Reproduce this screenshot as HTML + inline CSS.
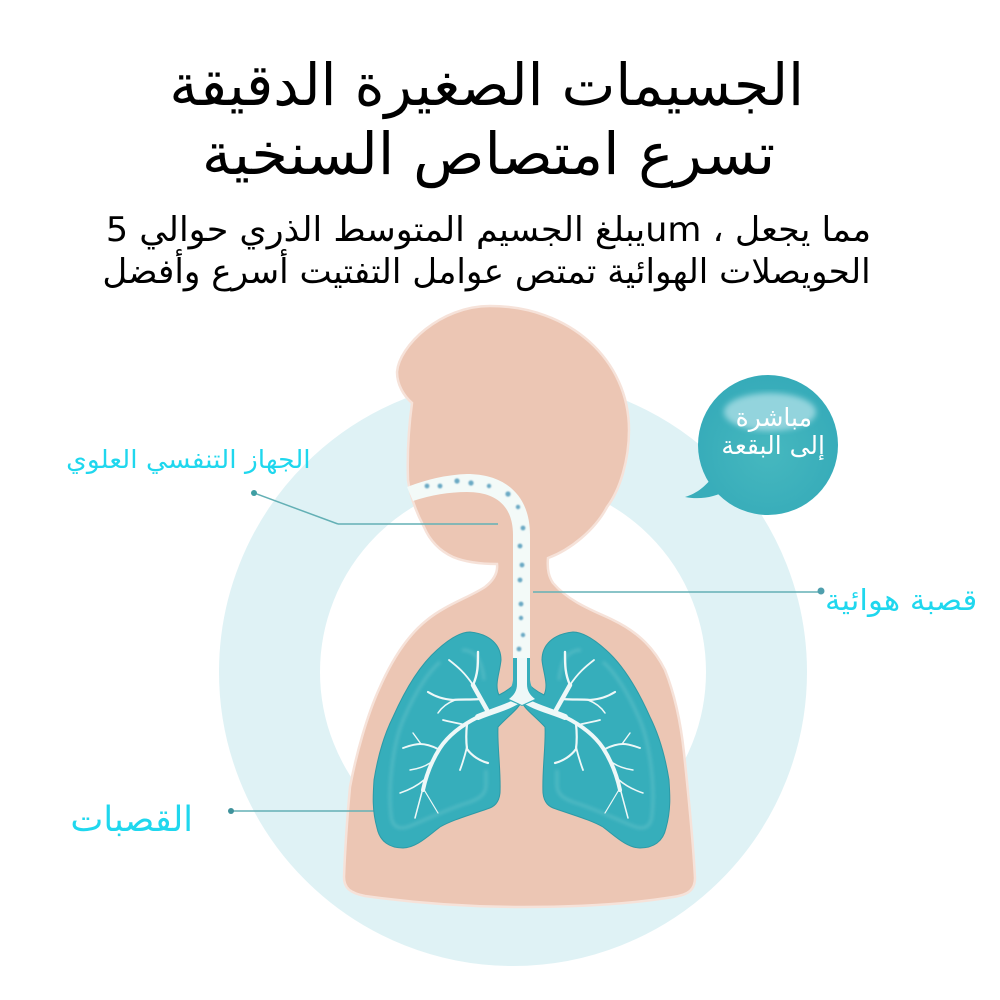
<!DOCTYPE html>
<html lang="ar">
<head>
<meta charset="utf-8">
<style>
html,body{margin:0;padding:0;background:#fff;width:1000px;height:1000px;overflow:hidden}
#p{position:relative;width:1000px;height:1000px;font-family:"DejaVu Sans","Liberation Sans",sans-serif}
svg{position:absolute;left:0;top:0}
.t{position:absolute;white-space:nowrap;direction:rtl;line-height:1;transform-origin:100% 50%}
</style>
</head>
<body>
<div id="p">
<svg width="1000" height="1000" viewBox="0 0 1000 1000">
<defs>
<radialGradient id="bb" cx="0.5" cy="0.55" r="0.55"><stop offset="0" stop-color="#46b8bf"/><stop offset="1" stop-color="#36abb9"/></radialGradient>
<filter id="soft"><feGaussianBlur stdDeviation="0.7"/></filter>
<filter id="soft2"><feGaussianBlur stdDeviation="1.5"/></filter>
<filter id="soft3"><feGaussianBlur stdDeviation="3"/></filter>
<g id="lung">
<path d="M470 632C490 634 501 645 501 660C500 672 494 685 499 695C505 692 512 688 518 680L522 700C520 708 508 716 498 727C497 745 501 770 500 793C499 803 494 807 487 809C470 815 452 820 440 827C428 836 416 848 403 848C390 848 380 842 377 828C372 810 373 795 374 780C378 755 384 735 393 717C405 690 420 665 437 650C448 640 460 632 470 632Z" fill="#36aebb" stroke="#2c9aa6" stroke-width="1"/>
<path d="M462 650C475 650 482 660 484 680M486 770V785C486 795 478 799 470 802C450 808 425 820 410 826C400 830 392 828 391 815C388 790 392 745 404 718C412 700 425 675 440 662" fill="none" stroke="#6cc5cd" stroke-width="3" stroke-opacity=".5" filter="url(#soft2)"/>
<g fill="none" stroke="#eef8f8" stroke-linecap="round" stroke-linejoin="round">
<path d="M522 698C510 707 492 711 478 717" stroke-width="6"/>
<path d="M478 717C462 725 448 736 440 748C431 762 426 776 423 790" stroke-width="4"/>
<path d="M423 788L415 818" stroke-width="1.500"/>
<path d="M423 788L438 813" stroke-width="1.200"/>
<path d="M487 710L473 685" stroke-width="4.500"/>
<path d="M473 685C465 673 458 667 449 660" stroke-width="1.800"/>
<path d="M473 685C478 674 478 665 478 652" stroke-width="2.400"/>
<path d="M480 699C470 700 462 699 453 700C443 699 436 697 428 692" stroke-width="2.200"/>
<path d="M455 700C447 703 442 707 438 713" stroke-width="1.500"/>
<path d="M465 725C458 723 450 722 443 720" stroke-width="1.800"/>
<path d="M467 724C466 733 466 741 467 749C472 756 480 761 488 763" stroke-width="2.200"/>
<path d="M467 747C465 755 463 762 460 770" stroke-width="1.800"/>
<path d="M438 749C432 746 426 744 420 744C414 744 409 746 403 748" stroke-width="1.900"/>
<path d="M421 744L413 733" stroke-width="1.400"/>
<path d="M430 763C424 767 417 769 410 770" stroke-width="1.400"/>
<path d="M424 780C417 786 409 790 400 793" stroke-width="1.500"/>
</g>
</g>
</defs>

<circle cx="513" cy="672" r="243.500" fill="none" stroke="#dff2f5" stroke-width="101"/>

<line x1="254" y1="493" x2="338" y2="524" stroke="#63b0b5" stroke-width="1.500"/>

<path d="M412 403C404 396 397 385 397 372C399 346 440 306 490 306C570 306 629 360 629 430C629 460 620 490 607 507C595 530 570 550 548 558C547 570 549 577 553 583C570 603 597 612 613 620C640 633 655 650 665 670C675 695 681 725 684 753C689 800 693 840 695 878C695 890 688 895 673 897C630 904 575 907 523 907C470 907 415 903 365 896C350 893 344 888 344 877C345 850 347 820 350 787C356 755 367 715 380 687C392 660 408 635 427 620C445 605 470 597 485 587C494 580 498 572 497 564C480 564 465 562 453 557C440 551 430 541 424 527C415 510 410 495 408 480C407 450 409 425 412 403Z" fill="#ecc6b4" stroke="#f6e2d9" stroke-width="2.500"/>

<line x1="338" y1="524" x2="498" y2="524" stroke="#63b0b5" stroke-width="1.500"/>
<line x1="533" y1="592" x2="820" y2="592" stroke="#63b0b5" stroke-width="1.500"/>
<line x1="231" y1="811" x2="375" y2="811" stroke="#63b0b5" stroke-width="1.500"/>
<circle cx="254" cy="493" r="3" fill="#3f9ea3"/>
<circle cx="821" cy="591" r="3.500" fill="#4f9fad"/>
<circle cx="231" cy="811" r="3" fill="#3f929c"/>

<path d="M407 487Q438 475 467 474C505 474 530 495 530 535V658H513V535C513 505 495 492 467 492Q440 492 413 501Z" fill="#f3faf8"/>
<g fill="#6aa9c4" filter="url(#soft)">
<circle cx="427" cy="486" r="2.400"/><circle cx="440" cy="486" r="2.400"/><circle cx="457" cy="481" r="2.600"/><circle cx="471" cy="483" r="2.600"/><circle cx="489" cy="486" r="2.200"/><circle cx="508" cy="494" r="2.600"/><circle cx="518" cy="507" r="2.200"/><circle cx="523" cy="528" r="2.400"/><circle cx="520" cy="546" r="2.400"/><circle cx="522" cy="565" r="2.400"/><circle cx="520" cy="580" r="2.400"/><circle cx="521" cy="604" r="2.400"/><circle cx="521" cy="618" r="2.200"/><circle cx="523" cy="635" r="2.200"/><circle cx="519" cy="649" r="2.400"/>
</g>

<use href="#lung"/>
<use href="#lung" transform="matrix(-1 0 0 1 1043 0)"/>
<path d="M513 658H530V680C531 688 534 692 541 698L522 706L503 698C509 692 512 688 513 680Z" fill="#36aebb"/>
<path d="M517 658H527V684C527 691 530 695 535 699L522 705L509 699C514 695 517 691 517 684Z" fill="#eef8f8"/>

<path d="M712 478C705 486 698 493 685 497C700 500 716 497 727 490Z" fill="#38adba"/>
<circle cx="768" cy="445" r="70" fill="url(#bb)"/>
<ellipse cx="770" cy="412" rx="46" ry="19" fill="#93d4dd" filter="url(#soft3)"/>
</svg>

<div class="t" style="right:196px;top:56px;font-size:58px;color:#000;transform:scaleX(.984)">الجسيمات الصغيرة الدقيقة</div>
<div class="t" style="right:225px;top:125px;font-size:58px;color:#000;transform:scaleX(1.018)">تسرع امتصاص السنخية</div>
<div class="t" style="right:129px;top:213px;font-size:34px;color:#000;transform:scaleX(1.027)">مما يجعل ، umيبلغ الجسيم المتوسط الذري حوالي 5</div>
<div class="t" style="right:129px;top:255px;font-size:34px;color:#000;transform:scaleX(1.006)">الحويصلات الهوائية تمتص عوامل التفتيت أسرع وأفضل</div>
<div class="t" style="right:689px;top:447px;font-size:25px;color:#1fd7ee;transform:scaleX(1.06)">الجهاز التنفسي العلوي</div>
<div class="t" style="right:23px;top:586px;font-size:29px;color:#1fd7ee;transform:scaleX(1.063)">قصبة هوائية</div>
<div class="t" style="right:807px;top:803px;font-size:35px;color:#1fd7ee">القصبات</div>
<div class="t" style="right:188px;top:405px;font-size:25px;color:#fff">مباشرة</div>
<div class="t" style="right:175px;top:433px;font-size:25px;color:#fff">إلى البقعة</div>
</div>
</body>
</html>
